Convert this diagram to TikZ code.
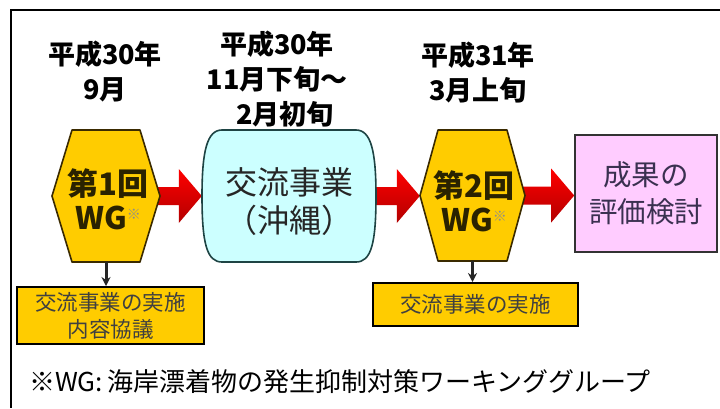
\documentclass[tikz,border=0pt]{standalone}
\usepackage{fontspec}
\newfontfamily\jp{Noto Sans CJK JP}
\usetikzlibrary{calc,arrows.meta}
\definecolor{gold}{HTML}{FFCC00}
\definecolor{cyanfill}{HTML}{CCFFFF}
\definecolor{pinkfill}{HTML}{FFCCFF}
\definecolor{hexline}{HTML}{3A2A00}
\definecolor{cloudline}{HTML}{1E4444}
\definecolor{darktext}{HTML}{2A2200}
\definecolor{purpletext}{HTML}{3A3050}
\pgfdeclarelayer{bg}
\pgfsetlayers{bg,main}
\tikzset{
  hdr/.style={font=\jp\bfseries\fontsize{27}{35}\selectfont, align=center, inner sep=0pt},
  holder/.style={inner sep=0pt, align=center},
  hexshape/.style={fill=gold, draw=hexline, line width=1.6pt, line join=round},
  hextext/.style={font=\jp\bfseries\fontsize{31}{34}\selectfont, text=darktext},
  cloudshape/.style={fill=cyanfill, draw=cloudline, line width=1.6pt},
  cloudtext/.style={font=\jp\fontsize{32}{38}\selectfont, text=black!85},
  pinkbox/.style={fill=pinkfill, draw=black!80, line width=1.6pt, minimum width=142pt, minimum height=117pt, align=center, inner sep=0pt, font=\jp\fontsize{28.5}{37}\selectfont, text=purpletext},
  smallbox/.style={fill=gold, draw=black, line width=2pt, align=center, inner sep=0pt, font=\jp\fontsize{21.5}{27}\selectfont, text=black!75},
  redarr/.style={shading=axis, top color=red, middle color=red, bottom color=red!70!black},
  downarrow/.style={draw=black!85, line width=3pt, -{Stealth[length=9pt,width=9pt]}},
}
\newcommand\redarrowfromto[2]{%
  \path[redarr] let \p1=(#1), \p2=(#2) in
    (\x1,\y1+9pt) -- (\x2-23pt,\y1+9pt) -- (\x2-23pt,\y1+27pt) -- (\x2,\y1)
    -- (\x2-23pt,\y1-27pt) -- (\x2-23pt,\y1-9pt) -- (\x1,\y1-9pt) -- cycle;}
\begin{document}
\begin{tikzpicture}[x=1pt,y=-1pt]
\useasboundingbox (0,0) rectangle (720,408);
\draw[line width=2pt] (720,10) -- (11,10) -- (11,408);

% date headers
\node[hdr] (t1) at (105,72) {平成30年\\9月};
\node[hdr] (t2) at (277,79) {平成30年\\11月下旬～\\\hspace*{0.6em}2月初旬};
\node[hdr] (t3) at (478,73) {平成31年\\3月上旬};

% main shapes (text holders)
\node[holder, minimum width=108pt, minimum height=132pt] (h1) at (106,196) {};
\node[hextext, align=center, inner sep=0pt] (h1t) at (108,199) {第1回\\WG\raisebox{10pt}{\textcolor{black!45}{\fontsize{14}{14}\selectfont ※}}};
\node[holder, minimum width=174pt, minimum height=132pt] (c) at (289,196) {};
\node[cloudtext, align=center, inner sep=0pt] (ct) at (289,202) {交流事業\\（沖縄）};
\node[holder, minimum width=105pt, minimum height=131pt] (h2) at (472.5,195.5) {};
\node[hextext, align=center, inner sep=0pt] (h2t) at (474,201) {第2回\\WG\raisebox{10pt}{\textcolor{black!45}{\fontsize{14}{14}\selectfont ※}}};
\node[pinkbox] (p) at (646,193.5) {成果の\\評価検討};

% small boxes
\node[smallbox, minimum width=187pt, minimum height=57pt] (b1) at (110.5,315.5) {交流事業の実施\\内容協議};
\node[smallbox, minimum width=205pt, minimum height=43pt] (b2) at (475.5,304.5) {交流事業の実施};

\begin{pgfonlayer}{bg}
  \fill[white] (0,0) rectangle (720,408);
  \redarrowfromto{$(h1.east)+(-4,0)$}{c.west}
  \redarrowfromto{$(c.east)+(-4,0)$}{h2.west}
  \redarrowfromto{$(h2.east)+(-4,0)$}{p.west}
  \path[hexshape] ($(h1)+(-34,-66)$) -- ($(h1)+(34,-66)$) -- ($(h1)+(54,0)$) -- ($(h1)+(34,66)$) -- ($(h1)+(-34,66)$) -- ($(h1)+(-54,0)$) -- cycle;
  \path[hexshape] ($(h2)+(-34.5,-65.5)$) -- ($(h2)+(34.5,-65.5)$) -- ($(h2)+(52.5,0)$) -- ($(h2)+(34.5,65.5)$) -- ($(h2)+(-34.5,65.5)$) -- ($(h2)+(-52.5,0)$) -- cycle;
  \path[cloudshape] ($(c)+(-67,-66)$) -- ($(c)+(67,-66)$)
    .. controls ($(c)+(82,-66)$) and ($(c)+(87,-45)$) .. ($(c)+(87,0)$)
    .. controls ($(c)+(87,48)$) and ($(c)+(82,66)$) .. ($(c)+(67,66)$)
    -- ($(c)+(-67,66)$)
    .. controls ($(c)+(-82,66)$) and ($(c)+(-87,48)$) .. ($(c)+(-87,0)$)
    .. controls ($(c)+(-87,-45)$) and ($(c)+(-82,-66)$) .. ($(c)+(-67,-66)$) -- cycle;
\end{pgfonlayer}

% down arrows
\path[downarrow] (h1.south) -- (h1.south |- b1.north);
\path[downarrow] (h2.south) -- (h2.south |- b2.north);

% footnote
\node[font=\jp\fontsize{26}{26}\selectfont, anchor=west, inner sep=0pt] (fn) at (29,382) {※WG:\,海岸漂着物の発生抑制対策ワーキンググループ};
\end{tikzpicture}
\end{document}
